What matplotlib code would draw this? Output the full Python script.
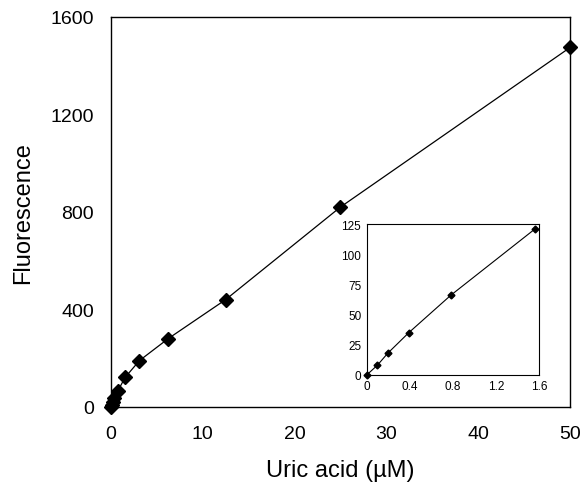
import numpy as np
import matplotlib.pyplot as plt

plt.rcParams['font.family'] = ['Liberation Sans', 'DejaVu Sans']

# uric acid concentration (uM) and fluorescence readings
conc = [0, 0.098, 0.195, 0.39, 0.78, 1.5625, 3.125, 6.25, 12.5, 25, 50]
fluor = [0, 8, 18, 35, 66, 121, 190, 280, 440, 820, 1475]

# low-concentration range shown in the inset
conc_low = [0, 0.098, 0.195, 0.39, 0.78, 1.5625]
fluor_low = [0, 8, 18, 35, 66, 121]

main_xticks = [0, 10, 20, 30, 40, 50]
main_yticks = [0, 400, 800, 1200, 1600]
inset_xticks = [0, 0.4, 0.8, 1.2, 1.6]
inset_yticks = [0, 25, 50, 75, 100, 125]

fig = plt.figure(figsize=(5.86, 4.85), dpi=100)
ax = fig.add_axes([0.189, 0.159, 0.784, 0.804])
ax.plot(conc, fluor, color='black', lw=0.9, marker='D', ms=7.5, mfc='black', mec='black', clip_on=False)
ax.set_xlim(0, 50)
ax.set_ylim(0, 1600)
ax.set_xticks(main_xticks)
ax.set_yticks(main_yticks)
ax.tick_params(length=0, labelsize=14)
ax.tick_params(axis='x', pad=13)
ax.tick_params(axis='y', pad=12)
ax.set_xlabel('Uric acid (µM)', fontsize=17, labelpad=12)
ax.set_ylabel('Fluorescence', fontsize=17, labelpad=12)
for s in ax.spines.values():
    s.set_linewidth(1.0)

ins = fig.add_axes([0.626, 0.225, 0.294, 0.311])
ins.plot(conc_low, fluor_low, color='black', lw=0.8, marker='D', ms=3.5, mfc='black', mec='black', clip_on=False)
ins.set_xlim(0, 1.6)
ins.set_ylim(0, 125)
ins.set_xticks(inset_xticks)
ins.set_xticklabels(['0', '0.4', '0.8', '1.2', '1.6'])
ins.set_yticks(inset_yticks)
ins.tick_params(length=0, labelsize=8.5, pad=4)
for s in ins.spines.values():
    s.set_linewidth(0.8)

fig.savefig('out.png', dpi=100)
